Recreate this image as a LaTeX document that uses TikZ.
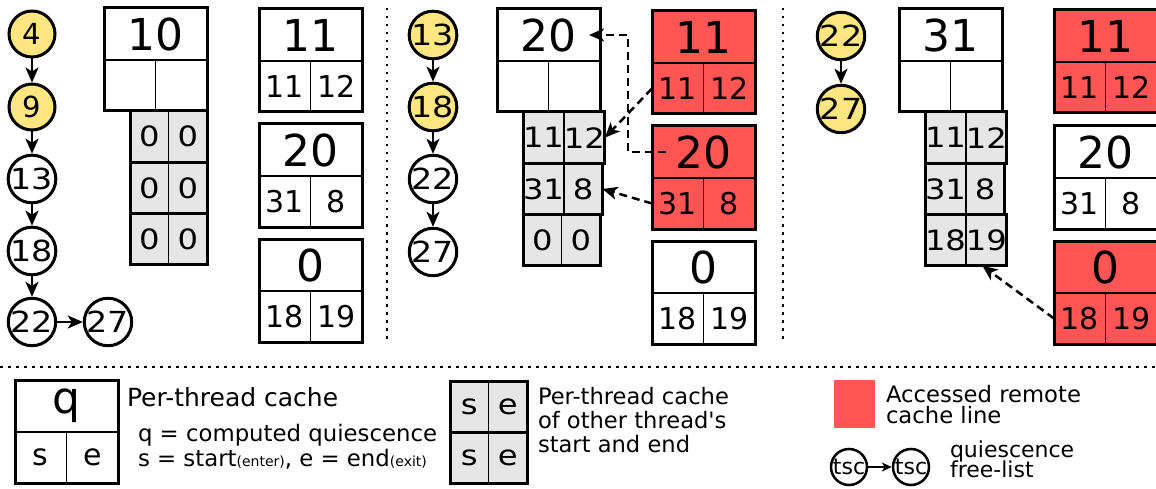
\documentclass[tikz,border=0pt]{standalone}
\usepackage{fontspec}
\setmainfont{DejaVu Sans}[Ligatures=TeXOff]
\newfontfamily\wideface{DejaVu Sans}[Ligatures=TeXOff,FakeStretch=1.15]
\usetikzlibrary{arrows.meta}
\definecolor{qyellow}{HTML}{FFE680}
\definecolor{hitred}{HTML}{FF5555}
\definecolor{cellgray}{HTML}{E6E6E6}

\tikzset{
  thinline/.style={line width=1.4pt},
  frame/.style={line width=3pt, line join=miter},
  topcell/.style={draw, thinline, rectangle, inner sep=0pt, outer sep=0pt,
    minimum width=103pt, minimum height=52pt, anchor=north west,
    font=\fontsize{44}{44}\selectfont},
  botcell/.style={draw, thinline, rectangle, inner sep=0pt, outer sep=0pt,
    minimum width=51.5pt, minimum height=51pt, anchor=north west,
    font=\fontsize{30}{30}\selectfont},
  graycell/.style={draw, thinline, rectangle, fill=cellgray, inner sep=0pt,
    outer sep=0pt, minimum width=38.5pt, minimum height=51.3pt,
    anchor=north west, font=\wideface\fontsize{28}{28}\selectfont},
  tsnode/.style={circle, draw, line width=3pt, minimum size=46pt, inner sep=0pt,
    font=\wideface\fontsize{29}{29}\selectfont},
  narrowtxt/.style={font=\fontsize{29}{29}\selectfont},
  hot/.style={fill=qyellow},
  arr/.style={line width=2.5pt, -{Stealth[length=15pt,width=13pt,inset=4pt]}},
  smallarr/.style={line width=2pt, -{Stealth[length=10pt,width=9pt,inset=3pt]}},
  dasharr/.style={line width=2.5pt, dash pattern=on 8pt off 5pt,
    -{Stealth[length=15pt,width=13pt,inset=4pt]}},
  sepline/.style={line width=2.5pt, dash pattern=on 2.5pt off 5.5pt},
  lbl/.style={anchor=base west, inner sep=0pt, outer sep=0pt},
}

% per-thread cache: quiescence on top, start / end below
\newcommand\cachebox[7]{%
  \node[topcell, fill=#4] (#1-q) at (#2,#3) {#5};
  \node[botcell, fill=#4] (#1-s) at (#1-q.south west) {#6};
  \node[botcell, fill=#4] (#1-e) at (#1-s.north east) {#7};
  \draw[frame] (#1-q.north west) rectangle (#1-e.south east);
}
% cached start / end pairs of the other threads
\newcommand\otherblock[9]{%
  \node[graycell] (#1-1s) at (#2,#3) {#4};
  \node[graycell] (#1-1e) at (#1-1s.north east) {#5};
  \node[graycell] (#1-2s) at (#1-1s.south west) {#6};
  \node[graycell] (#1-2e) at (#1-2s.north east) {#7};
  \node[graycell] (#1-3s) at (#1-2s.south west) {#8};
  \node[graycell] (#1-3e) at (#1-3s.north east) {#9};
  \draw[frame] (#1-1s.north west) rectangle (#1-1e.south east);
  \draw[frame] (#1-2s.north west) rectangle (#1-2e.south east);
  \draw[frame] (#1-3s.north west) rectangle (#1-3e.south east);
}

\begin{document}
\begin{tikzpicture}[x=1pt,y=-1pt]
\useasboundingbox (0,0) rectangle (1156,489);
\clip (0,0) rectangle (1156,489);

% ---------------- thread 1 ----------------
\node[tsnode, hot, narrowtxt] (a4) at (32,34) {4};
\node[tsnode, hot, narrowtxt] (a9) at (32,107) {9};
\node[tsnode] (a13) at (32,179) {13};
\node[tsnode] (a18) at (32,251) {18};
\node[tsnode] (a22) at (32,322) {22};
\node[tsnode] (a27) at (108,322) {27};
\draw[arr] (a4) -- (a9);
\draw[arr] (a9) -- (a13);
\draw[arr] (a13) -- (a18);
\draw[arr] (a18) -- (a22);
\draw[arr] (a22) -- (a27);

\cachebox{A0}{104}{8}{white}{10}{}{}
\otherblock{GA}{130}{111}{0}{0}{0}{0}{0}{0}
\cachebox{A1}{259}{9}{white}{11}{11}{12}
\cachebox{A2}{259}{124}{white}{20}{31}{8}
\cachebox{A3}{259}{239}{white}{0}{18}{19}

\draw[sepline] (387,8) -- (387,343);

% ---------------- thread 2 ----------------
\node[tsnode, hot] (b13) at (433,35) {13};
\node[tsnode, hot] (b18) at (433,107) {18};
\node[tsnode] (b22) at (433,179) {22};
\node[tsnode] (b27) at (433,252) {27};
\draw[arr] (b13) -- (b18);
\draw[arr] (b18) -- (b22);
\draw[arr] (b22) -- (b27);

\cachebox{B0}{497}{9}{white}{20}{}{}
\otherblock{GB}{523}{112}{11}{12}{31}{8}{0}{0}
\cachebox{B1}{652}{11}{hitred}{11}{11}{12}
\cachebox{B2}{652}{126}{hitred}{20}{31}{8}
\cachebox{B3}{652}{241}{white}{0}{18}{19}

\draw[dasharr] ([xshift=14pt]B2-q.west) -- ++(-38,0) |- ([xshift=-11pt]B0-q.east);
\draw[dasharr] (B1-s.west) -- (GB-1e.east);
\draw[dasharr] (B2-s.west) -- (GB-2e.east);

\draw[sepline] (783,8) -- (783,343);

% ---------------- thread 3 ----------------
\node[tsnode, hot] (c22) at (841,36) {22};
\node[tsnode, hot] (c27) at (841,109) {27};
\draw[arr] (c22) -- (c27);

\cachebox{C0}{899}{9}{white}{31}{}{}
\otherblock{GC}{925}{112}{11}{12}{31}{8}{18}{19}
\cachebox{C1}{1054}{10}{hitred}{11}{11}{12}
\cachebox{C2}{1054}{126}{white}{20}{31}{8}
\cachebox{C3}{1054}{241}{hitred}{0}{18}{19}

\draw[dasharr] (C3-s.west) -- ([xshift=-4pt]GC-3e.south);

% ---------------- legend ----------------
\draw[sepline] (0,367) -- (1156,367);

\cachebox{LQ}{15}{380}{white}{q}{s}{e}
\node[lbl, font=\fontsize{25}{25}\selectfont] (lt1) at (127,406.5) {Per-thread cache};
\node[lbl, font=\fontsize{22.8}{22.8}\selectfont] (lt2) at (138,441) {q = computed quiescence};
\node[lbl, font=\fontsize{22.8}{22.8}\selectfont] (lt3) at (138,466)
  {s = start{\fontsize{14}{14}\selectfont(enter)}, e = end{\fontsize{14}{14}\selectfont(exit)}};

\begin{scope}[every node/.append style={minimum width=39pt, minimum height=51pt,
    font=\fontsize{28}{28}\selectfont}]
  \node[graycell] (LG-1s) at (450,381) {s};
  \node[graycell] (LG-1e) at (LG-1s.north east) {e};
  \node[graycell] (LG-2s) at (LG-1s.south west) {s};
  \node[graycell] (LG-2e) at (LG-2s.north east) {e};
\end{scope}
\draw[frame] (LG-1s.north west) rectangle (LG-1e.south east);
\draw[frame] (LG-2s.north west) rectangle (LG-2e.south east);
\node[lbl, font=\fontsize{22.6}{22.6}\selectfont] (lt4) at (538,404) {Per-thread cache};
\node[lbl, font=\fontsize{22.6}{22.6}\selectfont] (lt5) at (538,428) {of other thread's};
\node[lbl, font=\fontsize{22.6}{22.6}\selectfont] (lt6) at (538,452) {start and end};

\node[fill=hitred, anchor=north west, inner sep=0pt, minimum width=41pt,
  minimum height=48pt] (lred) at (834,380) {};
\node[lbl, font=\fontsize{22.7}{22.7}\selectfont] (lt7) at (886,402) {Accessed remote};
\node[lbl, font=\fontsize{22.7}{22.7}\selectfont] (lt8) at (886,423) {cache line};

\node[circle, draw, line width=2.5pt, minimum size=36pt, inner sep=0pt,
  font=\fontsize{22}{22}\selectfont] (ts1) at (849,467) {tsc};
\node[circle, draw, line width=2.5pt, minimum size=36pt, inner sep=0pt,
  font=\fontsize{22}{22}\selectfont] (ts2) at (911,467) {tsc};
\draw[smallarr] (ts1) -- (ts2);
\node[lbl, font=\fontsize{22}{22}\selectfont] (lt9) at (950,457) {quiescence};
\node[lbl, font=\fontsize{22}{22}\selectfont] (lt10) at (950,477) {free-list};
\end{tikzpicture}
\end{document}
